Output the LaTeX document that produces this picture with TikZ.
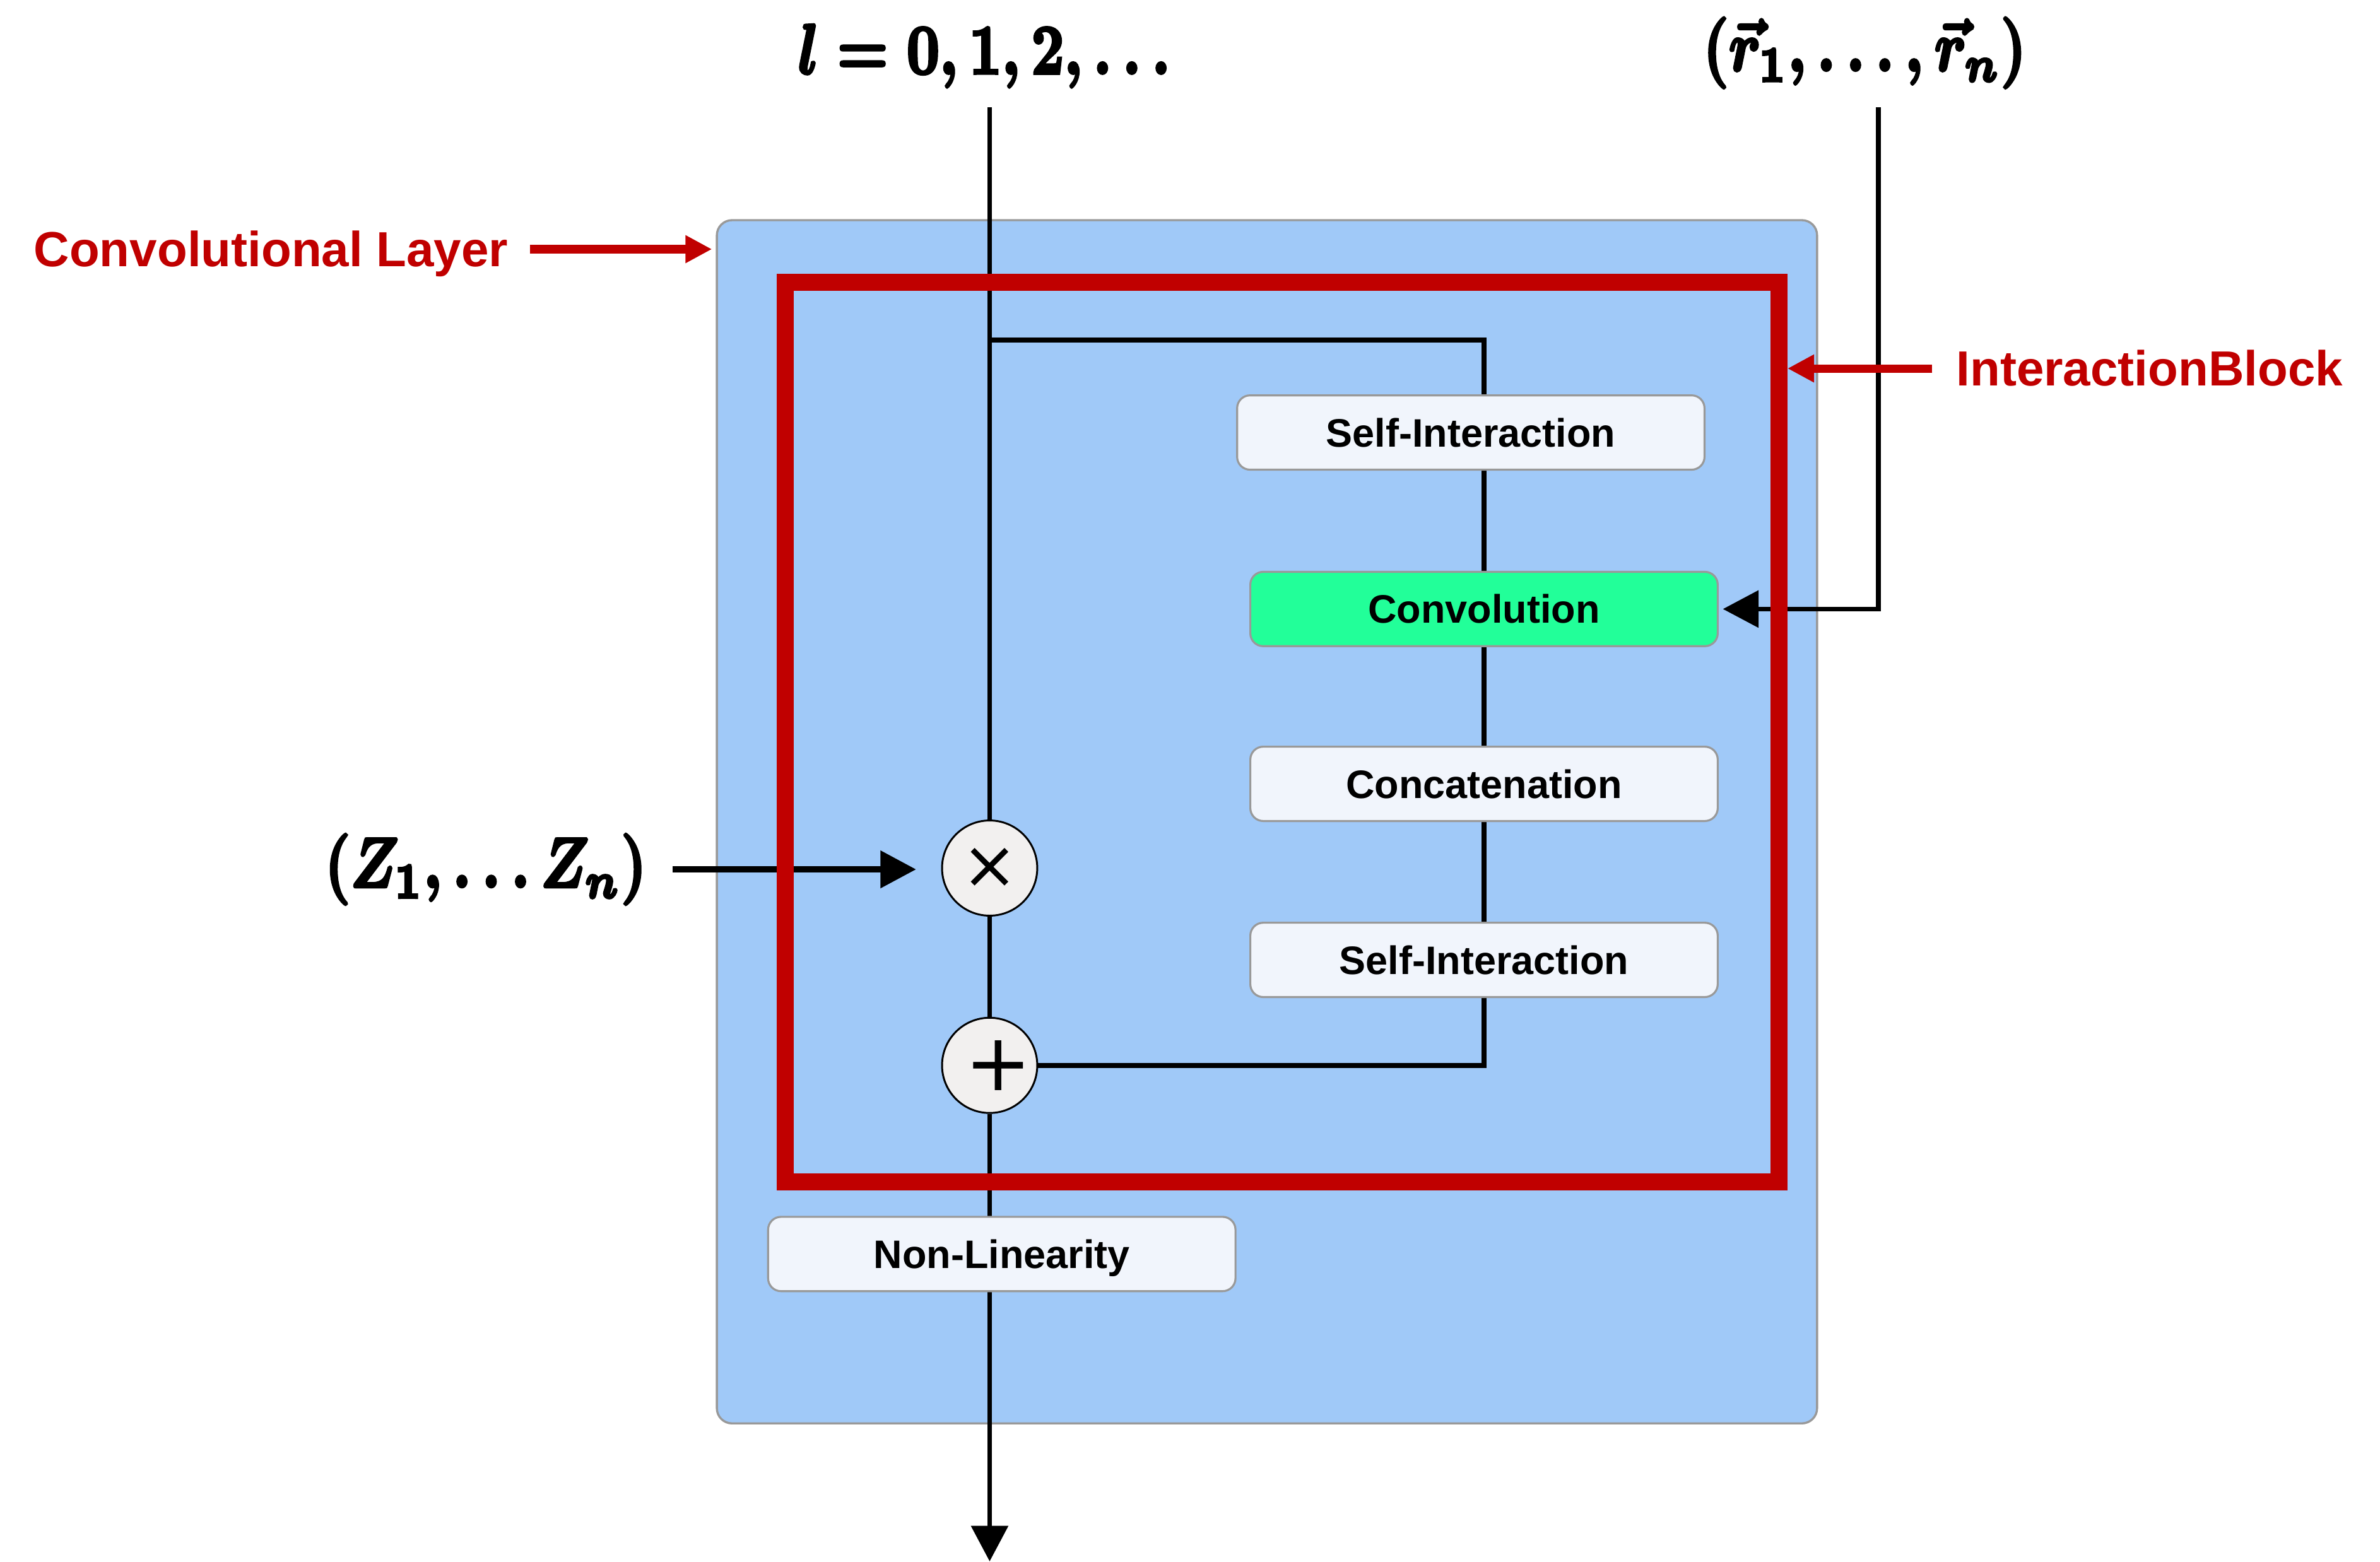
\documentclass[tikz,border=0pt]{standalone}
\usepackage{amsmath}
\usepackage[no-math]{fontspec}
\newfontfamily\lsans{Liberation Sans}
\newfontfamily\djv{DejaVu Sans}
\usetikzlibrary{arrows.meta}
\definecolor{layerblue}{HTML}{A0C9F8}
\definecolor{bordergray}{HTML}{999999}
\definecolor{nodefill}{HTML}{F1F5FC}
\definecolor{convgreen}{HTML}{22FF99}
\definecolor{circfill}{HTML}{F2F0EF}
\definecolor{darkred}{HTML}{C00000}
\newcommand{\heavytext}[1]{\special{pdf:literal direct q 2 Tr 0.4 w}#1\special{pdf:literal direct Q}}
\pgfdeclarelayer{back}
\pgfdeclarelayer{lines}
\pgfdeclarelayer{redl}
\pgfsetlayers{back,lines,redl,main}
\begin{document}
\begin{tikzpicture}[x=0.02cm, y=-0.02cm,
  conn/.style={line width=1.82pt, draw=black},
  opbox/.style={draw=bordergray, line width=0.75pt, fill=nodefill, rounded corners=0.17cm,
    minimum width=6.16cm, minimum height=0.98cm, inner sep=0pt, text height=10.7pt, text depth=0pt,
    font=\lsans\bfseries\fontsize{14.9}{18}\selectfont},
  opcirc/.style={circle, draw=black, line width=0.7pt, fill=circfill, minimum size=1.255cm, inner sep=0pt},
  mathlab/.style={inner sep=0pt, xscale=2.15, yscale=2.65, transform shape, font=\boldmath},
  redlab/.style={inner sep=0pt, text=darkred, text height=13.1pt, text depth=0pt,
    font=\lsans\bfseries\fontsize{18.5}{22}\selectfont},
  redarr/.style={draw=darkred, line width=3.1pt, -{Triangle[length=0.35cm,width=0.345cm]}},
  blkarr/.style={-{Triangle[length=0.47cm,width=0.48cm]}},
]
\useasboundingbox (0,0) rectangle (1568,1028.85);

% outer layer box
\begin{pgfonlayer}{back}
\node[draw=bordergray, line width=0.8pt, fill=layerblue, rounded corners=0.2cm,
  minimum width=14.5cm, minimum height=15.86cm, inner sep=0pt] (layer) at (834.7,541.5) {};
\end{pgfonlayer}

% interaction block frame
\begin{pgfonlayer}{redl}
\node[draw=darkred, line width=6.37pt, minimum width=13.1cm, minimum height=11.86cm,
  inner sep=0pt] (iblock) at (844.6,482.5) {};
\end{pgfonlayer}

% operation boxes
\node[opbox] (si1) at (969,285) {Self-Interaction};
\node[opbox, fill=convgreen] (conv) at (977.7,401.3) {Convolution};
\node[opbox] (cat) at (977.7,516.5) {Concatenation};
\node[opbox] (si2) at (977.7,632.5) {Self-Interaction};
\node[opbox] (nl) at (660,826.3) {Non-Linearity};

% operators
\node[opcirc] (times) at (652,572) {\djv\fontsize{25}{25}\selectfont\makebox[0pt]{\raisebox{-0.6pt}{×}}};
\node[opcirc] (plus) at (652,702) {\djv\fontsize{29.8}{30}\selectfont\makebox[0pt]{\hspace{0.228cm}+}};

% math labels
\node[mathlab, anchor=base] (llab) at (648.5,48.5) {\heavytext{$l = 0, 1, 2, \ldots$}};
\node[mathlab, anchor=base] (rlab) at (1228.5,46.5) {\heavytext{$(\vec{r}_1, \ldots, \vec{r}_n)$}};
\node[mathlab, anchor=base] (zlab) at (320,584.5) {\heavytext{$(Z_1, \ldots Z_n)$}};

% red labels
\node[redlab, anchor=base west] (cllab) at (22,175.7) {Convolutional Layer};
\node[redlab, anchor=base west] (iblab) at (1288.5,254.3) {InteractionBlock};

% coordinates
\coordinate (ltop) at (652,70.7);
\coordinate (rtop) at (1237.6,70.7);
\coordinate (branch) at (652,224);
\coordinate (bend1) at (977.7,224);
\coordinate (bend2) at (977.7,702);
\coordinate (outend) at (652,1028.85);

% connectors
\begin{pgfonlayer}{lines}
\draw[conn] (ltop) -- (times);
\draw[conn] (times) -- (plus);
\draw[conn, blkarr] (plus) -- (outend);
\draw[conn] (branch) -- (bend1) -- (bend2) -- (plus);
\draw[conn, blkarr, shorten >=0.055cm] (rtop) |- (conv.east);
\draw[line width=2.2pt, blkarr, shorten <=0.33cm, shorten >=0.33cm] (zlab.east) -- (zlab.east -| times.west);
\end{pgfonlayer}

% red pointers
\draw[redarr, shorten <=0.28cm, shorten >=0.05cm] (cllab.east) -- (cllab.east -| layer.west);
\draw[redarr, shorten <=0.31cm] (iblab.west) -- (iblab.west -| iblock.east);
\end{tikzpicture}
\end{document}
